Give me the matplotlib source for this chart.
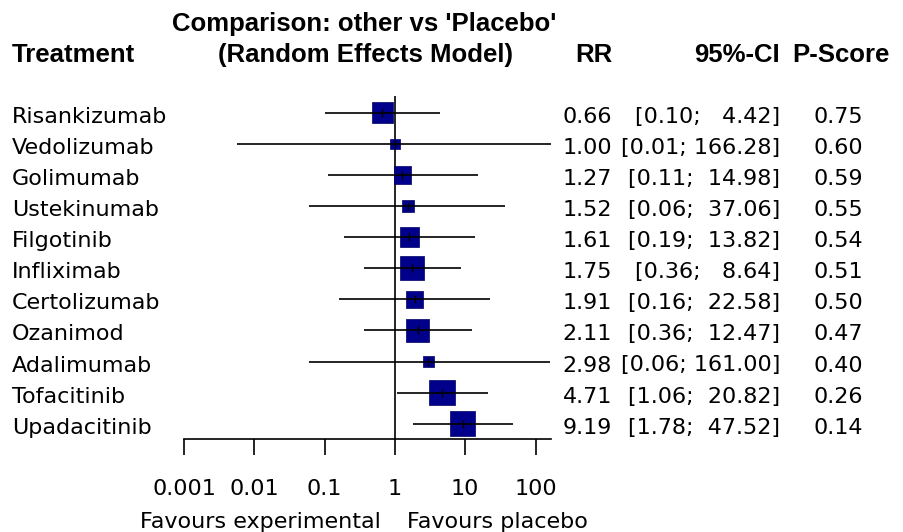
import matplotlib.pyplot as plt
import numpy as np

# Dati del forest plot (RR vs Placebo, modello a effetti casuali)
treatments = ['Risankizumab', 'Vedolizumab', 'Golimumab', 'Ustekinumab', 'Filgotinib',
              'Infliximab', 'Certolizumab', 'Ozanimod', 'Adalimumab', 'Tofacitinib',
              'Upadacitinib']
rr = [0.66, 1.00, 1.27, 1.52, 1.61, 1.75, 1.91, 2.11, 2.98, 4.71, 9.19]
ci_low = [0.10, 0.0057, 0.11, 0.06, 0.19, 0.36, 0.16, 0.36, 0.06, 1.06, 1.78]
ci_high = [4.42, 166.28, 14.98, 37.06, 13.82, 8.64, 22.58, 12.47, 161.00, 20.82, 47.52]
pscore = [0.75, 0.60, 0.59, 0.55, 0.54, 0.51, 0.50, 0.47, 0.40, 0.26, 0.14]
# peso relativo (dimensione dei quadrati)
weight = [0.81, 0.39, 0.68, 0.48, 0.76, 0.94, 0.65, 0.89, 0.44, 1.00, 0.97]
xticks = [0.001, 0.01, 0.1, 1, 10, 100]
xticklabels = ['0.001', '0.01', '0.1', '1', '10', '100']

W, H = 904, 532
def fx(px):
    return px / W
def fy(py):
    return 1 - py / H

fig = plt.figure(figsize=(W / 100, H / 100), dpi=100)

# asse del forest: 70.3 px per decade, 0.001 a x=184
x_left = 184
decade = 70.3
span = (np.log10(max(ci_high)) - np.log10(xticks[0])) * decade
ax = fig.add_axes([fx(x_left), 0, span / W, 1])
ax.set_xscale('log')
ax.set_xlim(xticks[0], max(ci_high))

# righe: centro prima riga a y=112.7 px, passo 31.1 px
row0, step = 112.7, 31.1
ax.set_ylim((H - row0) / step, -row0 / step)
n = len(treatments)
rows = np.arange(n)

# linea di riferimento a 1
ax.vlines(1, -0.54, n - 0.5, color='black', lw=1.2)

# quadrati
max_side = 25.5  # px
sizes = [(w * max_side * 0.72) ** 2 for w in weight]
ax.scatter(rr, rows, marker='s', s=sizes, color='#00008B', edgecolor='#000066',
           linewidths=0.5, zorder=3)
# intervalli di confidenza
ax.hlines(rows, ci_low, ci_high, color='black', lw=1.2, zorder=4, clip_on=False)
ax.plot(rr, rows, linestyle='none', marker='|', color='black', ms=6, mew=1.0, zorder=5)

# asse x
for s in ['top', 'right', 'left']:
    ax.spines[s].set_visible(False)
ax.spines['bottom'].set_position(('data', n - 0.5))
ax.spines['bottom'].set_linewidth(1.2)
ax.set_yticks([])
ax.set_xticks(xticks)
ax.set_xticklabels(xticklabels, fontsize=16, family='DejaVu Sans')
ax.minorticks_off()
ax.tick_params(axis='x', direction='out', length=11.5, width=1.2, pad=17)
ax.patch.set_visible(False)

# colonne di testo
body = dict(fontsize=16, family='DejaVu Sans', va='baseline')
for i in range(n):
    yb = fy(row0 + step * i + 10)
    fig.text(fx(12), yb, treatments[i], ha='left', **body)
    fig.text(fx(612), yb, f'{rr[i]:.2f}', ha='right', **body)
    fig.text(fx(780), yb, f'[{ci_low[i]:.2f}; {ci_high[i]:6.2f}]', ha='right', **body)
    fig.text(fx(863), yb, f'{pscore[i]:.2f}', ha='right', **body)

# intestazioni
head = dict(fontsize=18.5, family='Liberation Sans', weight='bold', va='baseline')
fig.text(fx(12), fy(62), 'Treatment', ha='left', **head)
fig.text(fx(364), fy(31.5), "Comparison: other vs 'Placebo'", ha='center', **head)
fig.text(fx(366), fy(62), '(Random Effects Model)', ha='center', **head)
fig.text(fx(613), fy(62), 'RR', ha='right', **head)
fig.text(fx(780), fy(62), '95%-CI', ha='right', **head)
fig.text(fx(890), fy(62), 'P-Score', ha='right', **head)

# etichette "Favours"
fig.text(fx(381), fy(527.5), 'Favours experimental', ha='right', **body)
fig.text(fx(407), fy(527.5), 'Favours placebo', ha='left', **body)

fig.savefig('out.png', dpi=100)
